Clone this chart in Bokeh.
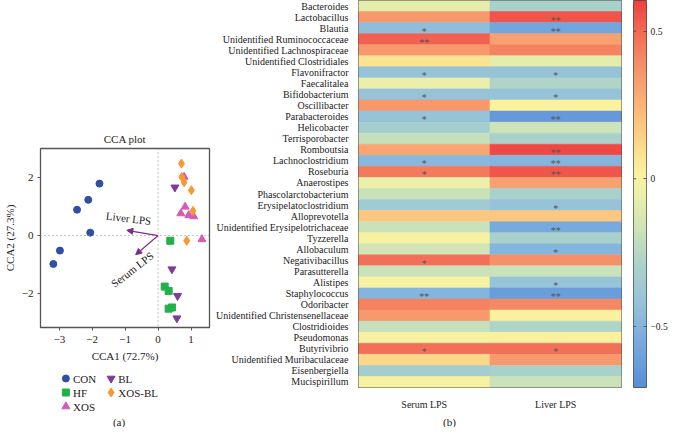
from bokeh.plotting import figure
from bokeh.layouts import row, column
from bokeh.models import (Range1d, FactorRange, FixedTicker, Label, Arrow, NormalHead,
                          Span, LinearColorMapper, ColumnDataSource)
from bokeh.core.properties import value
from bokeh.embed import file_html
from bokeh.resources import INLINE
import numpy as np

FONT = "Liberation Serif"
TXT = "#222222"

# ---------------- CCA data ----------------
con_x = [-1.78, -2.12, -2.46, -2.06, -2.98, -3.18]
con_y = [1.79, 1.23, 0.89, 0.10, -0.52, -0.98]
hf_x = [0.37, 0.20, 0.32, 0.32, 0.42]
hf_y = [-0.18, -1.76, -1.91, -2.52, -2.48]
xos_x = [0.79, 0.82, 0.69, 0.93, 1.08, 1.33]
xos_y = [2.02, 0.99, 0.76, 0.70, 0.66, -0.13]
bl_x = [0.51, 0.42, 0.59, 0.57]
bl_y = [1.66, -1.16, -2.08, -2.85]
xbl_x = [0.71, 0.72, 0.79, 1.01, 1.06, 0.87]
xbl_y = [2.48, 2.02, 1.84, 1.56, 0.85, -0.18]

env_names = ["Liver LPS", "Serum LPS"]
env_x = [-0.95, -0.68]
env_y = [0.18, -0.66]

x_ticks = [-3, -2, -1, 0, 1]
y_ticks = [-2, 0, 2]

groups = ["CON", "HF", "XOS", "BL", "XOS-BL"]
group_colors = ["#2f4ea5", "#22b04b", "#d65bb5", "#7d3c98", "#f59a32"]
group_markers = ["circle", "square", "triangle", "inverted_triangle", "diamond"]
group_sizes = [7, 7, 8, 8, 9]

# ---------------- Heatmap data ----------------
genera = ["Bacteroides", "Lactobacillus", "Blautia", "Unidentified Ruminococcaceae",
          "Unidentified Lachnospiraceae", "Unidentified Clostridiales", "Flavonifractor",
          "Faecalitalea", "Bifidobacterium", "Oscillibacter", "Parabacteroides",
          "Helicobacter", "Terrisporobacter", "Romboutsia", "Lachnoclostridium",
          "Roseburia", "Anaerostipes", "Phascolarctobacterium", "Erysipelatoclostridium",
          "Alloprevotella", "Unidentified Erysipelotrichaceae", "Tyzzerella", "Allobaculum",
          "Negativibacillus", "Parasutterella", "Alistipes", "Staphylococcus", "Odoribacter",
          "Unidentified Christensenellaceae", "Clostridioides", "Pseudomonas", "Butyrivibrio",
          "Unidentified Muribaculaceae", "Eisenbergiella", "Mucispirillum"]
serum_r = [-0.08, 0.35, -0.45, 0.52, 0.35, 0.08, -0.42, -0.06, -0.42, 0.35, -0.42,
           -0.33, -0.20, 0.30, -0.48, 0.45, -0.05, -0.18, -0.35, 0.18, -0.18, 0.00,
           -0.15, 0.48, -0.18, 0.00, -0.50, 0.42, 0.35, -0.20, 0.00, 0.48, 0.12, -0.33, 0.00]
liver_r = [-0.30, 0.55, -0.58, 0.32, 0.42, -0.08, -0.42, -0.28, -0.42, 0.02, -0.65,
           -0.17, -0.30, 0.58, -0.50, 0.55, 0.32, -0.30, -0.42, 0.18, -0.55, -0.30,
           -0.50, 0.38, -0.18, -0.42, -0.62, 0.40, 0.03, -0.28, 0.03, 0.48, 0.35, -0.30, -0.18]
serum_sig = ["", "", "*", "**", "", "", "*", "", "*", "", "*", "", "", "", "*", "*", "",
             "", "", "", "", "", "", "*", "", "", "**", "", "", "", "", "*", "", "", ""]
liver_sig = ["", "**", "**", "", "", "", "*", "", "*", "", "**", "", "", "**", "**", "**",
             "", "", "*", "", "**", "", "*", "", "", "*", "**", "", "", "", "", "*", "", "", ""]
columns = ["Serum LPS", "Liver LPS"]
cb_low, cb_high = -0.707, 0.604
cb_ticks = [-0.5, 0, 0.5]

# ---------------- palette ----------------
stops = [(-0.707, "#5b8ed6"), (-0.55, "#78acdf"), (-0.42, "#97c3d9"), (-0.30, "#a9d1cb"),
         (-0.18, "#cbe2b9"), (-0.05, "#edf0aa"), (0.02, "#fbf29f"), (0.12, "#fdd88a"),
         (0.25, "#fbb477"), (0.38, "#f6916a"), (0.50, "#f26a55"), (0.604, "#ee4141")]


def hex2rgb(h):
    return [int(h[i:i + 2], 16) for i in (1, 3, 5)]


sv = np.array([s[0] for s in stops])
sc = np.array([hex2rgb(s[1]) for s in stops], dtype=float)
vals = np.linspace(cb_low, cb_high, 256)
palette = []
for v in vals:
    rgb = [int(round(np.interp(v, sv, sc[:, k]))) for k in range(3)]
    palette.append("#%02x%02x%02x" % tuple(rgb))
mapper = LinearColorMapper(palette=palette, low=cb_low, high=cb_high)

# ---------------- CCA plot ----------------
p_sc = figure(width=213, height=369, x_range=Range1d(-3.57, 1.56), y_range=Range1d(-3.17, 3.0),
              output_backend="svg", toolbar_location=None, title="CCA plot",
              min_border_left=35, min_border_right=4, min_border_top=148, min_border_bottom=42)
p_sc.title.align = "center"
p_sc.title.text_font = FONT
p_sc.title.text_font_size = "11px"
p_sc.title.text_font_style = "normal"
p_sc.title.text_color = TXT
p_sc.title.standoff = 7
p_sc.grid.visible = False
p_sc.outline_line_color = "#555555"
p_sc.outline_line_width = 1.3
for ax in (p_sc.xaxis[0], p_sc.yaxis[0]):
    ax.axis_line_color = None
    ax.major_tick_in = 0
    ax.major_tick_out = 3
    ax.major_tick_line_color = "#555555"
    ax.minor_tick_line_color = None
    ax.major_label_text_font = FONT
    ax.major_label_text_font_size = "11px"
    ax.major_label_text_color = TXT
    ax.axis_label_text_font = FONT
    ax.axis_label_text_font_size = "11px"
    ax.axis_label_text_font_style = "normal"
    ax.axis_label_text_color = TXT
p_sc.xaxis.axis_label = "CCA1 (72.7%)"
p_sc.yaxis.axis_label = "CCA2 (27.3%)"
p_sc.xaxis.ticker = FixedTicker(ticks=x_ticks)
p_sc.yaxis.ticker = FixedTicker(ticks=y_ticks)
p_sc.xaxis.major_label_overrides = {t: (str(t).replace("-", "\u2212")) for t in x_ticks}
p_sc.yaxis.major_label_overrides = {t: (str(t).replace("-", "\u2212")) for t in y_ticks}
p_sc.xaxis.major_label_standoff = 5
p_sc.yaxis.major_label_standoff = 4
p_sc.xaxis.axis_label_standoff = 4
p_sc.yaxis.axis_label_standoff = 3

p_sc.add_layout(Span(location=0, dimension="height", line_color="#888888", line_dash="1 3", line_width=1))
p_sc.add_layout(Span(location=0, dimension="width", line_color="#888888", line_dash="1 3", line_width=1))

series = [(con_x, con_y), (hf_x, hf_y), (xos_x, xos_y), (bl_x, bl_y), (xbl_x, xbl_y)]
for (xs, ys), col, mk, sz in zip(series, group_colors, group_markers, group_sizes):
    p_sc.scatter(xs, ys, marker=mk, size=sz, fill_color=col, line_color=col)

arrow_col = "#7b2d8e"
env_src = ColumnDataSource(dict(x0=[0, 0], y0=[0, 0], x1=env_x, y1=env_y))
p_sc.add_layout(Arrow(end=NormalHead(size=6, fill_color=arrow_col, line_color=arrow_col),
                      x_start="x0", y_start="y0", x_end="x1", y_end="y1", source=env_src,
                      line_color=arrow_col, line_width=1.2))

p_sc.add_layout(Label(x=-0.897, y=0.594, text=env_names[0], angle=-0.12, text_align="center",
                      text_baseline="middle", text_font=FONT, text_font_size="11px", text_color=TXT))
p_sc.add_layout(Label(x=-0.784, y=-1.171, text=env_names[1], angle=0.66, text_align="center",
                      text_baseline="middle", text_font=FONT, text_font_size="11px", text_color=TXT))

# ---------------- legend panel ----------------
p_leg = figure(width=213, height=58, x_range=Range1d(0, 213), y_range=Range1d(58, 0),
               output_backend="svg", toolbar_location=None, x_axis_location=None, y_axis_location=None,
               min_border_left=0, min_border_right=0, min_border_top=0, min_border_bottom=0)
p_leg.grid.visible = False
p_leg.outline_line_color = None
leg_x = [32, 32, 32, 89, 89]
leg_y = [9, 23, 37, 9, 23]
for g, col, mk, sz, lx, ly in zip(groups, group_colors, group_markers, group_sizes, leg_x, leg_y):
    p_leg.scatter([lx], [ly], marker=mk, size=sz, fill_color=col, line_color=col)
    p_leg.text([lx + 9], [ly], text=[g], text_baseline="middle", text_font=value(FONT),
               text_font_size="11px", text_color=TXT)
p_leg.text([99], [52], text=["(a)"], text_align="center", text_baseline="middle",
           text_font=value(FONT), text_font_size="11px", text_color=TXT)

# ---------------- heatmap ----------------
p_heat = figure(width=412, height=412, x_range=FactorRange(factors=columns),
                y_range=FactorRange(factors=list(reversed(genera))),
                output_backend="svg", toolbar_location=None,
                min_border_left=138, min_border_right=4, min_border_top=0, min_border_bottom=20)
p_heat.grid.visible = False
p_heat.outline_line_color = "#4d4d4d"
p_heat.outline_line_width = 1
for ax in (p_heat.xaxis[0], p_heat.yaxis[0]):
    ax.axis_line_color = None
    ax.major_tick_line_color = None
    ax.minor_tick_line_color = None
    ax.major_label_text_font = FONT
    ax.major_label_text_font_size = "10px"
    ax.major_label_text_color = TXT
p_heat.yaxis.major_label_standoff = 4
p_heat.xaxis.major_label_standoff = 5

hx = [columns[0]] * len(genera) + [columns[1]] * len(genera)
hy = genera + genera
hr = serum_r + liver_r
hs = serum_sig + liver_sig
hsrc = ColumnDataSource(dict(x=hx, y=hy, r=hr, s=hs))
p_heat.rect(x="x", y="y", width=1, height=1, source=hsrc,
            fill_color={"field": "r", "transform": mapper},
            line_color={"field": "r", "transform": mapper}, line_width=0.6)
p_heat.text(x="x", y="y", text="s", source=hsrc, text_align="center", text_baseline="middle",
            y_offset=3, text_font=value(FONT), text_font_size="10px", text_color="#555555")

# ---------------- color bar ----------------
p_cb = figure(width=45, height=412, x_range=Range1d(0, 1), y_range=Range1d(cb_low, cb_high),
              output_backend="svg", toolbar_location=None, x_axis_location=None,
              y_axis_location="right",
              min_border_left=8, min_border_right=22, min_border_top=0, min_border_bottom=20)
p_cb.grid.visible = False
p_cb.outline_line_color = "#4d4d4d"
grad = np.linspace(cb_low, cb_high, 256).reshape(-1, 1)
p_cb.image(image=[grad], x=0, y=cb_low, dw=1, dh=cb_high - cb_low, color_mapper=mapper)
p_cb.segment(x0=[0] * 3, x1=[0.2] * 3, y0=cb_ticks, y1=cb_ticks, line_color="#555555", line_width=1)
ya = p_cb.yaxis[0]
ya.ticker = FixedTicker(ticks=cb_ticks)
ya.major_label_overrides = {t: str(t).replace("-", "\u2212") for t in cb_ticks}
ya.axis_line_color = None
ya.major_tick_in = 3
ya.major_tick_out = 0
ya.major_tick_line_color = "#555555"
ya.minor_tick_line_color = None
ya.major_label_standoff = 4
ya.major_label_text_font = FONT
ya.major_label_text_font_size = "9.5px"
ya.major_label_text_color = TXT

# ---------------- panel (b) caption ----------------
p_b = figure(width=457, height=15, x_range=Range1d(0, 457), y_range=Range1d(15, 0),
             output_backend="svg", toolbar_location=None, x_axis_location=None, y_axis_location=None,
             min_border_left=0, min_border_right=0, min_border_top=0, min_border_bottom=0)
p_b.grid.visible = False
p_b.outline_line_color = None
p_b.text([236], [9], text=["(b)"], text_align="center", text_baseline="middle",
         text_font=value(FONT), text_font_size="11px", text_color=TXT)

layout = row(column(p_sc, p_leg), column(row(p_heat, p_cb), p_b))
open("out.html", "w").write(file_html(layout, INLINE))
